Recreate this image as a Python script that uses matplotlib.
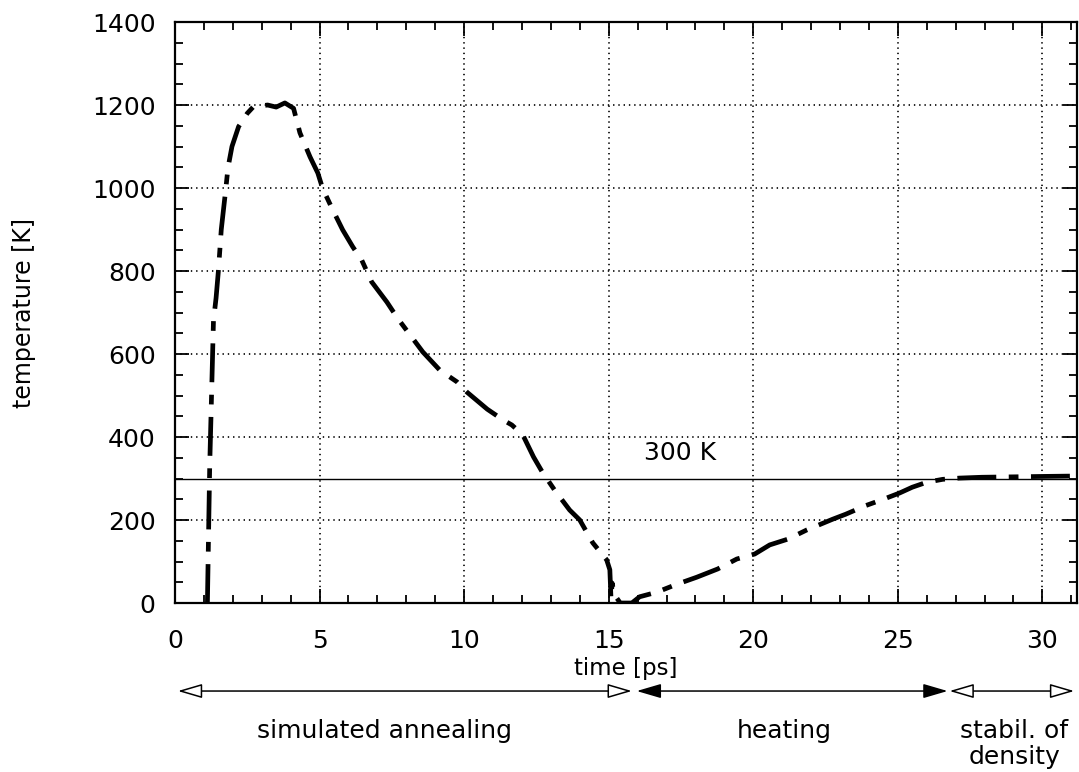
import matplotlib
matplotlib.use("Agg")
import matplotlib.pyplot as plt
from matplotlib.ticker import MultipleLocator
from matplotlib.transforms import blended_transform_factory

plt.rcParams['font.family'] = ['DejaVu Sans']
plt.rcParams['lines.scale_dashes'] = False

# temperature history of the MD run
time_ps = [1.12, 1.2, 1.33, 1.42, 1.5, 1.6, 1.76, 1.83, 1.97, 2.2, 2.5, 2.7, 3.2, 3.5,
           3.8, 4.1, 4.32, 4.67, 4.94, 5.1, 5.43, 5.8, 6.15, 6.46, 6.8, 7.33, 7.7,
           8.57, 9.16, 9.75, 10.1, 10.8, 11.35, 11.65, 12.03, 12.4, 12.7, 13.13,
           13.65, 14.0, 14.45, 14.93, 15.04, 15.08, 15.12, 15.2, 15.4, 15.8, 16.07,
           16.66, 17.35, 18.04, 18.77, 19.43, 20.05, 20.57, 21.2, 21.85, 22.75,
           23.2, 23.9, 24.5, 25.06, 25.5, 26.0, 26.55, 27.13, 27.9, 29.0, 30.0, 31.2]
temperature_K = [0, 330, 680, 735, 800, 900, 1000, 1048, 1100, 1148, 1180, 1195, 1200,
                 1195, 1205, 1192, 1133, 1075, 1036, 1000, 951, 899, 858, 826, 774,
                 725, 686, 605, 561, 533, 508, 467, 441, 429, 405, 352, 316, 272, 224,
                 200, 145, 104, 80, 10, 48, 20, 0, 0, 15, 26, 45, 62, 82, 106, 118,
                 140, 154, 176, 202, 214, 235, 250, 265, 279, 291, 298, 301, 303, 304,
                 305, 306]

x_ticks = [0, 5, 10, 15, 20, 25, 30]
y_ticks = [0, 200, 400, 600, 800, 1000, 1200, 1400]
reference_T = 300

# simulation phases: (start, end, label, filled heads)
phase_start = [0.1, 15.97, 26.79]
phase_end = [15.8, 26.72, 31.1]
phase_label = ["simulated annealing", "heating", "stabil. of\ndensity"]
phase_label_x = [7.26, 21.08, 29.02]
phase_filled = [False, True, False]

fig = plt.figure(figsize=(10.79, 7.72), dpi=100)
ax = fig.add_axes([0.1622, 0.2189, 0.8360, 0.7526])

ax.set_xlim(0, 31.2)
ax.set_ylim(0, 1400)

line, = ax.plot(time_ps, temperature_K, color='black', lw=3.4,
                solid_capstyle='butt', dash_capstyle='butt')
line.set_dashes((28, 9, 7, 9))

ax.axhline(reference_T, color='black', lw=1.0)
ax.text(17.46, 361, "300 K", fontsize=18, ha='center', va='center')

ax.set_xticks(x_ticks)
ax.set_yticks(y_ticks)
ax.set_xticklabels([str(v) for v in x_ticks])
ax.set_yticklabels([str(v) for v in y_ticks])
ax.xaxis.set_minor_locator(MultipleLocator(1))
ax.yaxis.set_minor_locator(MultipleLocator(50))

ax.tick_params(which='both', direction='in', top=True, right=True, width=1.3,
               color='black', labelsize=18)
ax.tick_params(which='major', length=10)
ax.tick_params(which='minor', length=5.5)
ax.tick_params(axis='x', which='major', pad=19)
ax.tick_params(axis='y', which='major', pad=14)

for sp in ax.spines.values():
    sp.set_linewidth(1.6)
    sp.set_color('black')

ax.grid(True, which='major', color='black', lw=1.2, linestyle=(0, (1.0, 2.8)))

ax.text(-0.1674, 0.5, "temperature [K]", transform=ax.transAxes, rotation=90,
        ha='center', va='center', fontsize=17)

tr = blended_transform_factory(ax.transData, ax.transAxes)
ax.text(15.58, -0.1120, "time [ps]", transform=tr, ha='center', va='center',
        fontsize=16.5, clip_on=False)

arrow_y = -0.1515
for x0, x1, filled in zip(phase_start, phase_end, phase_filled):
    ax.annotate("", xy=(x1, arrow_y), xytext=(x0, arrow_y),
                xycoords=tr, textcoords=tr, annotation_clip=False,
                arrowprops=dict(arrowstyle='<|-|>,head_length=0.75,head_width=0.22',
                                mutation_scale=20, shrinkA=0, shrinkB=0, lw=1.1,
                                fc='black' if filled else 'white', ec='black'))

label_y = [-0.2203, -0.2203, -0.2430]
for x, y, lab in zip(phase_label_x, label_y, phase_label):
    ax.text(x, y, lab, transform=tr, ha='center', va='center', fontsize=18,
            linespacing=1.1, clip_on=False)

fig.savefig("out.png", dpi=100)
